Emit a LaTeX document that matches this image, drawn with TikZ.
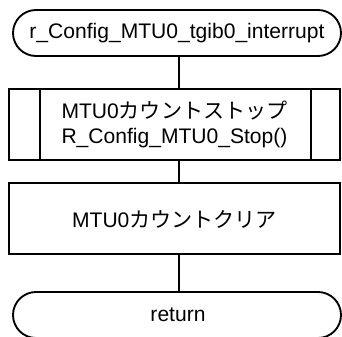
\documentclass[tikz,border=0pt]{standalone}
\usepackage{fontspec}
\setmainfont{Liberation Sans}
\newfontfamily\jp{Noto Sans CJK JP}
\begin{document}
\begin{tikzpicture}[x=0.75pt,y=-0.75pt,
  line width=1.4pt,
  term/.style={draw, rounded corners=17.25pt, minimum width=246pt, minimum height=34.5pt, inner sep=0pt},
  procbox/.style={draw, minimum width=248.25pt, minimum height=53.25pt, inner sep=0pt},
  lbl/.style={font=\fontsize{15.8pt}{19pt}\selectfont, align=center}]
\useasboundingbox (0,0) rectangle (342,336);
\node[term] (t1) at (177,33) {};
\node[lbl] at (177,33.5) {r\_Config\_MTU0\_tgib0\_interrupt};
\node[procbox] (b1) at (174.5,124.5) {};
\draw (40,89) -- (40,160);
\draw (311,89) -- (311,160);
\node[lbl] (b1t) at (174.5,124.5) {MTU0{\jp カウントストップ}\\R\_Config\_MTU0\_Stop()};
\node[procbox] (b2) at (174.5,218.5) {};
\node[lbl] at (174.5,219) {MTU0{\jp カウントクリア}};
\node[term] (t2) at (177,315) {};
\node[lbl] at (178,315) {return};
\coordinate (cx) at (179,0);
\draw (t1.south -| cx) -- (b1.north -| cx);
\draw (b1.south -| cx) -- (b2.north -| cx);
\draw (b2.south -| cx) -- (t2.north -| cx);
\end{tikzpicture}
\end{document}
